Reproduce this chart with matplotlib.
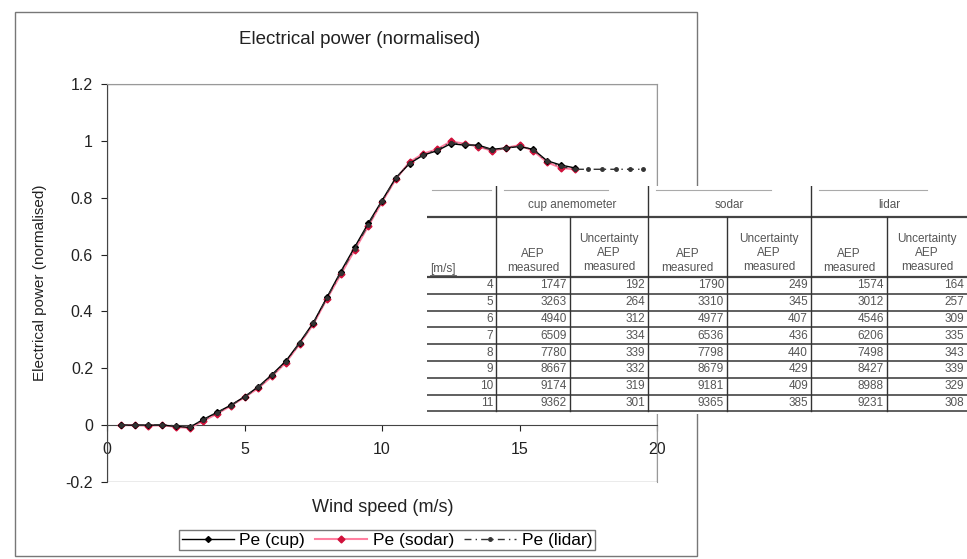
import matplotlib
matplotlib.use('Agg')
import matplotlib.pyplot as plt
from matplotlib.patches import Rectangle

plt.rcParams['font.family'] = ['Liberation Sans', 'DejaVu Sans']

# power curve data (normalised), 0.5 m/s bins
ws_cup = [0.5, 1.0, 1.5, 2.0, 2.5, 3.0, 3.5, 4.0, 4.5, 5.0, 5.5, 6.0, 6.5, 7.0, 7.5, 8.0, 8.5,
          9.0, 9.5, 10.0, 10.5, 11.0, 11.5, 12.0, 12.5, 13.0, 13.5, 14.0, 14.5, 15.0, 15.5, 16.0, 16.5, 17.0]
pe_cup = [0.0, 0.0, 0.0, 0.0, -0.004, -0.008, 0.02, 0.045, 0.07, 0.1, 0.135, 0.178, 0.225, 0.29, 0.36, 0.45, 0.54,
          0.625, 0.71, 0.79, 0.87, 0.92, 0.95, 0.965, 0.99, 0.985, 0.985, 0.97, 0.975, 0.98, 0.97, 0.93, 0.915, 0.905]
pe_sodar = [0.0, 0.0, -0.002, 0.0, -0.006, -0.01, 0.015, 0.04, 0.068, 0.098, 0.13, 0.172, 0.22, 0.285, 0.355, 0.445, 0.53,
            0.615, 0.70, 0.785, 0.865, 0.925, 0.955, 0.97, 0.998, 0.99, 0.98, 0.965, 0.975, 0.985, 0.965, 0.925, 0.905, 0.9]
ws_lidar = ws_cup + [17.5, 18.0, 18.5, 19.0, 19.5]
pe_lidar = [0.0, 0.0, 0.0, 0.002, -0.003, -0.006, 0.018, 0.043, 0.069, 0.099, 0.133, 0.175, 0.222, 0.288, 0.358, 0.448, 0.536,
            0.62, 0.705, 0.788, 0.868, 0.922, 0.952, 0.968, 0.994, 0.988, 0.982, 0.968, 0.974, 0.982, 0.968, 0.928, 0.91, 0.9,
            0.9, 0.9, 0.9, 0.9, 0.9]

# AEP table
tab_ws = [4, 5, 6, 7, 8, 9, 10, 11]
cup_aep = [1747, 3263, 4940, 6509, 7780, 8667, 9174, 9362]
cup_unc = [192, 264, 312, 334, 339, 332, 319, 301]
sodar_aep = [1790, 3310, 4977, 6536, 7798, 8679, 9181, 9365]
sodar_unc = [249, 345, 407, 436, 440, 429, 409, 385]
lidar_aep = [1574, 3012, 4546, 6206, 7498, 8427, 8988, 9231]
lidar_unc = [164, 257, 309, 335, 343, 339, 329, 308]
groups = ['cup anemometer', 'sodar', 'lidar']

W, H = 967, 559
fig = plt.figure(figsize=(W / 100, H / 100), dpi=100)
fig.patch.set_facecolor('white')

# outer chart frame (kept behind the table overlay)
fig.patches.append(Rectangle((15 / W, 1 - 556 / H), 682 / W, 544 / H, transform=fig.transFigure,
                             fill=False, edgecolor='#777777', lw=1.0, zorder=1))

ax = fig.add_axes([107 / W, 1 - 482 / H, 550 / W, 398 / H])
ax.set_xlim(0, 20)
ax.set_ylim(-0.2, 1.2)

ax.plot(ws_cup, pe_cup, color='black', lw=1.0, marker='D', ms=3, label='Pe (cup)', zorder=4)
ax.plot(ws_cup, pe_sodar, color='#ff7fa0', lw=1.5, marker='D', ms=3.5, mfc='#d0103a', mec='#d0103a',
        label='Pe (sodar)', zorder=3)
ax.plot(ws_lidar, pe_lidar, color='#333333', lw=1.0, ls=(0, (5, 3, 1, 3)), marker='o', ms=2.5,
        label='Pe (lidar)', zorder=5)

for s in ['top', 'right']:
    ax.spines[s].set_color('#999999')
ax.spines['left'].set_color('#444444')
ax.spines['bottom'].set_position(('data', 0))
ax.spines['bottom'].set_color('#444444')
ax.add_patch(Rectangle((0, 0), 1, 1, transform=ax.transAxes, fill=False, edgecolor='#999999', lw=1.0, zorder=0))

ax.set_xticks([0, 5, 10, 15, 20])
ax.set_yticks([-0.2, 0, 0.2, 0.4, 0.6, 0.8, 1.0, 1.2])
ax.set_yticklabels(['-0.2', '0', '0.2', '0.4', '0.6', '0.8', '1', '1.2'])
ax.tick_params(direction='out', length=4, labelsize=11.5, colors='#222222')
ax.tick_params(axis='y', pad=6)
ax.tick_params(axis='x', pad=8)

fig.text(360 / W, 1 - 40 / H, 'Electrical power (normalised)', ha='center', va='center', fontsize=13.5, color='#222222')
fig.text(383 / W, 1 - 508 / H, 'Wind speed (m/s)', ha='center', va='center', fontsize=13, color='#222222')
fig.text(40 / W, 1 - 283 / H, 'Electrical power (normalised)', ha='center', va='center', rotation=90,
         fontsize=11, color='#222222')

handles, labels = ax.get_legend_handles_labels()
fig.legend(handles, labels, loc='center', bbox_to_anchor=(387 / W, 1 - 540 / H), ncol=3, frameon=True,
           fancybox=False, edgecolor='#555555', fontsize=12.5, handlelength=3.0, columnspacing=0.6,
           handletextpad=0.3, borderpad=0.15)

# table overlay, drawn in pixel coordinates
tx0, ty0, ty1 = 427, 186, 414
tb = fig.add_axes([tx0 / W, 1 - ty1 / H, (W - tx0) / W, (ty1 - ty0) / H], zorder=5)
tb.set_xlim(tx0, W)
tb.set_ylim(ty1, ty0)
tb.axis('off')
tb.add_patch(Rectangle((tx0, ty0), W - tx0, ty1 - ty0, facecolor='white', edgecolor='none'))

cols = [427, 496, 570, 648, 727, 811, 887, 967]
row_top = 190
h1 = 217
h2 = 277
rh = 16.8
tc = '#555555'
fs = 8.5

# header lines
for g in range(3):
    tb.plot([cols[1 + 2 * g] + 8, cols[3 + 2 * g] - 40], [row_top, row_top], color='#aaaaaa', lw=0.8)
tb.plot([cols[0] + 5, cols[1] - 5], [row_top, row_top], color='#aaaaaa', lw=0.8)
tb.plot([cols[0], W], [h1, h1], color='#444444', lw=1.6)
tb.plot([cols[0], W], [h2, h2], color='#444444', lw=1.6)
for i in range(len(tab_ws)):
    y = h2 + rh * (i + 1)
    tb.plot([cols[0], W], [y, y], color='#444444', lw=1.2)
for c in [cols[1], cols[3], cols[5]]:
    tb.plot([c, c], [row_top - 4, h2 + rh * len(tab_ws)], color='#333333', lw=1.0)
for c in [cols[2], cols[4], cols[6]]:
    tb.plot([c, c], [h1, h2 + rh * len(tab_ws)], color='#333333', lw=1.0)

for g, name in enumerate(groups):
    tb.text((cols[1 + 2 * g] + cols[3 + 2 * g]) / 2, 205, name, ha='center', va='center', fontsize=fs, color=tc)
    tb.text((cols[1 + 2 * g] + cols[2 + 2 * g]) / 2, 261, 'AEP\nmeasured', ha='center', va='center',
            fontsize=fs, color=tc, linespacing=1.25)
    tb.text((cols[2 + 2 * g] + cols[3 + 2 * g]) / 2, 253, 'Uncertainty\nAEP\nmeasured', ha='center', va='center',
            fontsize=fs, color=tc, linespacing=1.25)
tb.text(cols[0] + 3, 269, '[m/s]', ha='left', va='center', fontsize=fs, color=tc)
tb.plot([cols[0] + 3, cols[0] + 29], [275, 275], color=tc, lw=0.6)

columns = [tab_ws, cup_aep, cup_unc, sodar_aep, sodar_unc, lidar_aep, lidar_unc]
for j, vals in enumerate(columns):
    for i, v in enumerate(vals):
        y = h2 + rh * (i + 0.5)
        tb.text(cols[j + 1] - 3, y, str(v), ha='right', va='center', fontsize=fs, color=tc)

fig.savefig('out.png', dpi=100, facecolor='white')
